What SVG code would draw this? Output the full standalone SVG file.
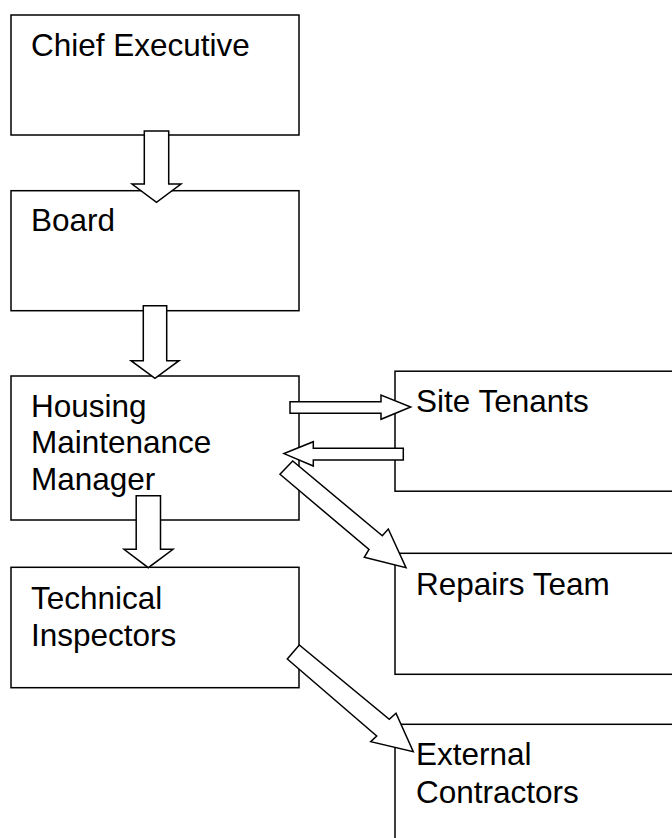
<svg xmlns="http://www.w3.org/2000/svg" width="672" height="838" viewBox="0 0 672 838">
<style>
.box{fill:#fff;stroke:#000;stroke-width:1.5}
.arr{fill:#fff;stroke:#000;stroke-width:1.5;stroke-linejoin:miter}
.lbl{font-family:"Liberation Sans",Arial,sans-serif;font-size:31.5px;fill:#000}
</style>
<rect width="672" height="838" fill="#fff"/>
<g id="chief-executive"><rect class="box" x="11" y="15" width="288" height="120"/><text class="lbl" x="31" y="55.7">Chief Executive</text></g>
<g id="board"><rect class="box" x="11" y="190.7" width="288" height="120"/><text class="lbl" x="31" y="231">Board</text></g>
<g id="housing-maintenance-manager"><rect class="box" x="11" y="376" width="288" height="144"/><text class="lbl" x="31" y="416.7">Housing</text><text class="lbl" x="31" y="453.4">Maintenance</text><text class="lbl" x="31" y="490">Manager</text></g>
<g id="technical-inspectors"><rect class="box" x="11" y="567.3" width="288" height="120.4"/><text class="lbl" x="31" y="609">Technical</text><text class="lbl" x="31" y="645.7">Inspectors</text></g>
<g id="site-tenants"><rect class="box" x="395" y="371.2" width="320" height="120"/><text class="lbl" x="416" y="412.3">Site Tenants</text></g>
<g id="repairs-team"><rect class="box" x="395" y="553.3" width="320" height="121"/><text class="lbl" x="416" y="595">Repairs Team</text></g>
<g id="external-contractors"><rect class="box" x="395" y="724.3" width="320" height="140"/><text class="lbl" x="416" y="765">External</text><text class="lbl" x="416" y="802.7">Contractors</text></g>
<g id="connectors">
<polygon class="arr" points="144.3,131 168.7,131 168.7,184 181,184 156.5,202.3 132,184 144.3,184"/>
<polygon class="arr" points="143.3,305.7 166.7,305.7 166.7,360.7 179,360.7 155,378.3 131,360.7 143.3,360.7"/>
<polygon class="arr" points="136.2,495.8 160.5,495.8 160.5,549.3 173,549.3 148.3,567.7 124,549.3 136.2,549.3"/>
<polygon class="arr" points="290,401.7 381,401.7 381,395 410.7,407 381,419.3 381,413.3 290,413.3"/>
<polygon class="arr" points="403.3,448.3 313.3,448.3 313.3,441.7 284,453.6 313.3,466 313.3,460 403.3,460"/>
<polygon class="arr" points="280,474.3 369,549.5 364.3,557.3 406,567.7 388.3,529 382.3,535.8 292.7,461"/>
<polygon class="arr" points="287.3,659 376.7,736 370.7,741.7 413.3,751.7 396,713.3 389.3,719.3 299.3,645"/>
</g>
</svg>
